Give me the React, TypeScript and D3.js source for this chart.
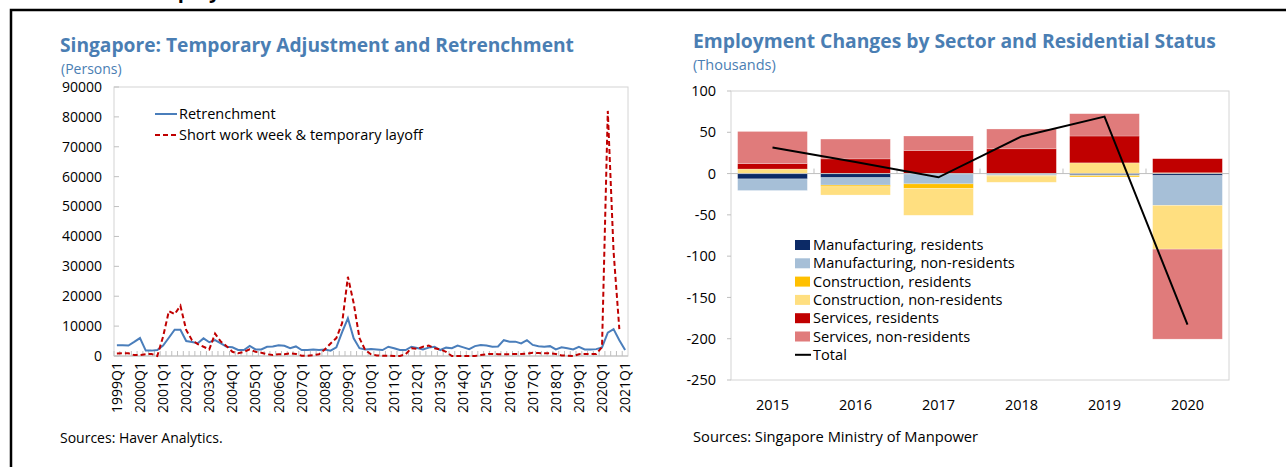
import React from 'react';
import * as d3 from 'd3';

// left chart: quarterly, persons
const quarters: string[] = d3.range(1999, 2022).flatMap(y => [1, 2, 3, 4].map(q => `${y}Q${q}`)).slice(0, 89);

const retrenchment = [
  3600, 3600, 3500, 4700, 6000, 1800, 1800, 2000, 3500, 6100, 8800, 8800, 5000, 4700, 4300, 5900,
  4600, 5300, 4200, 3100, 2900, 2000, 2000, 3400, 2200, 2200, 3100, 3200, 3600, 3400, 2600, 3200,
  2000, 2000, 2200, 2000, 2200, 1800, 2900, 8000, 12600, 5900, 2600, 2200, 2300, 2200, 2000, 3100,
  2600, 2000, 2000, 3100, 2700, 2200, 2800, 3100, 2000, 2800, 2600, 3500, 2900, 2300, 3300, 3700,
  3500, 3100, 3200, 5300, 4800, 4800, 4200, 5300, 3700, 3300, 3100, 3300, 2200, 2900, 2600, 2200,
  3100, 2200, 2200, 2300, 2900, 7800, 9000, 5300, 2000,
];

const layoff: (number | null)[] = [
  800, 900, 900, 300, 300, 600, 700, 0, 6500, 15000, 14000, 16800, 8700, 5300, 4000, 3100,
  2200, 7500, 4800, 3300, 1400, 900, 1400, 2200, 1400, 1100, 600, 300, 600, 600, 900, 700,
  100, 100, 300, 600, 2200, 4200, 6000, 11000, 26500, 17700, 6000, 2000, 600, 200, 100, 100,
  0, 0, 600, 2600, 2400, 3100, 3500, 2600, 2200, 1400, 0, 0, 0, 0, 0, 300,
  600, 700, 600, 600, 600, 700, 700, 800, 1100, 1000, 900, 900, 700, 200, 100, 0,
  600, 700, 700, 700, 3000, 82000, 35000, 9000, null,
];

const leftTicks = d3.range(0, 90001, 10000);

// right chart: annual, thousands
const years = ['2015', '2016', '2017', '2018', '2019', '2020'];
const mfgRes = [-6.5, -5, -0.5, -1, -1.5, -2.5];
const mfgNonRes = [-14, -9, -12, -1.5, -1, -36];
const conRes = [0, -2, -5.3, -0.5, -1.5, 1];
const conNonRes = [5.5, -10, -32.7, -7.5, 13, -53];
const svcRes = [6.5, 17.8, 28, 30, 32.5, 17];
const svcNonRes = [39, 24, 17.5, 24, 27, -109];
const total = [31.5, 14, -4.5, 45, 69, -183];
const rightTicks = d3.range(-250, 101, 50);

const seriesNames = [
  'Manufacturing, residents',
  'Manufacturing, non-residents',
  'Construction, residents',
  'Construction, non-residents',
  'Services, residents',
  'Services, non-residents',
];
const seriesColors = ['#0c2a66', '#a6bfd7', '#ffc000', '#ffdf80', '#c00000', '#e07b7b'];

const FONT = '"Open Sans", "Noto Sans", sans-serif';
const TITLE_BLUE = '#4a7eb3';

function LeftChart() {
  const x = d3.scaleBand<string>().domain(quarters).range([114, 628]);
  const y = d3.scaleLinear().domain([0, 90000]).range([356, 87]);
  const cx = (q: string) => (x(q) as number) + x.bandwidth() / 2;

  const line = d3.line<number | null>()
    .defined(d => d !== null)
    .x((_, i) => cx(quarters[i]))
    .y(d => y(d as number));

  return (
    <g fontFamily={FONT}>
      <text x={60} y={52} fontSize={19.2} fontWeight="bold" fill={TITLE_BLUE}>
        Singapore: Temporary Adjustment and Retrenchment
      </text>
      <text x={61} y={74} fontSize={14} fill={TITLE_BLUE}>(Persons)</text>

      <rect x={114} y={87} width={514} height={269} fill="none" stroke="#d4d4d4" />
      {leftTicks.map(t => (
        <g key={t}>
          <line x1={114} x2={119} y1={y(t)} y2={y(t)} stroke="#bfbfbf" />
          <text x={102} y={y(t)} dy="0.35em" textAnchor="end" fontSize={14} fill="#000">{t}</text>
        </g>
      ))}
      <line x1={114} x2={628} y1={356} y2={356} stroke="#bfbfbf" />
      {quarters.map(q => (
        <line key={q} x1={x(q)} x2={x(q)} y1={356} y2={351} stroke="#bfbfbf" />
      ))}
      {quarters.map((q, i) => i % 4 === 0 && (
        <text key={q} transform={`translate(${cx(q)},362) rotate(-90)`} dy="0.35em"
          textAnchor="end" fontSize={14} fill="#000">{q}</text>
      ))}

      <path d={line(retrenchment) as string} fill="none" stroke="#4a7ebb" strokeWidth={2} />
      <path d={line(layoff) as string} fill="none" stroke="#c00000" strokeWidth={2} strokeDasharray="5,3" />

      <line x1={155} x2={177} y1={114} y2={114} stroke="#4a7ebb" strokeWidth={2} />
      <text x={179} y={114} dy="0.35em" fontSize={14.5}>Retrenchment</text>
      <line x1={155} x2={177} y1={135} y2={135} stroke="#c00000" strokeWidth={2} strokeDasharray="5,3" />
      <text x={179} y={135} dy="0.35em" fontSize={14.5}>Short work week &amp; temporary layoff</text>

      <text x={60} y={443} fontSize={14}>Sources: Haver Analytics.</text>
    </g>
  );
}

function RightChart() {
  const x = d3.scaleBand<string>().domain(years).range([731, 1229]).paddingInner(0.16).paddingOuter(0.08);
  const y = d3.scaleLinear().domain([-250, 100]).range([380, 91]);
  const step = x.step();
  const cx = (yr: string) => (x(yr) as number) + x.bandwidth() / 2;

  const rows = years.map((yr, i) => ({
    year: yr,
    s0: mfgRes[i], s1: mfgNonRes[i], s2: conRes[i], s3: conNonRes[i], s4: svcRes[i], s5: svcNonRes[i],
  }));
  const keys = ['s0', 's1', 's2', 's3', 's4', 's5'];
  const stacked = d3.stack<any>().keys(keys).offset(d3.stackOffsetDiverging)(rows);

  const totalLine = d3.line<number>()
    .x((_, i) => cx(years[i]))
    .y(d => y(d));

  return (
    <g fontFamily={FONT}>
      <text x={693} y={48} fontSize={19.3} fontWeight="bold" fill={TITLE_BLUE}>
        Employment Changes by Sector and Residential Status
      </text>
      <text x={693} y={70} fontSize={14.5} fill={TITLE_BLUE}>(Thousands)</text>

      <rect x={731} y={91} width={498} height={289} fill="none" stroke="#d4d4d4" />
      {rightTicks.map(t => (
        <g key={t}>
          <line x1={727} x2={731} y1={y(t)} y2={y(t)} stroke="#bfbfbf" />
          <text x={716} y={y(t)} dy="0.35em" textAnchor="end" fontSize={14.5} fill="#000">{t}</text>
        </g>
      ))}

      {stacked.map((s, si) => (
        <g key={s.key} fill={seriesColors[si]}>
          {s.map((d, i) => (
            <rect key={i} x={x(years[i])} width={x.bandwidth()}
              y={y(Math.max(d[0], d[1]))} height={Math.abs(y(d[0]) - y(d[1]))}
              stroke="#ffffff" strokeOpacity={0.4} strokeWidth={0.6} />
          ))}
        </g>
      ))}

      <line x1={731} x2={1229} y1={y(0)} y2={y(0)} stroke="#bfbfbf" />
      {d3.range(1, years.length).map(k => (
        <line key={k} x1={731 + step * k} x2={731 + step * k} y1={y(0)} y2={y(0) - 5} stroke="#bfbfbf" />
      ))}

      <path d={totalLine(total) as string} fill="none" stroke="#000" strokeWidth={2} />

      {years.map(yr => (
        <text key={yr} x={cx(yr)} y={410} textAnchor="middle" fontSize={14.5}>{yr}</text>
      ))}

      {seriesNames.map((n, i) => (
        <g key={n} transform={`translate(795,${245 + i * 18.3})`}>
          <rect x={0} y={-5} width={15} height={10} fill={seriesColors[i]} />
          <text x={18} y={0} dy="0.35em" fontSize={14.6}>{n}</text>
        </g>
      ))}
      <g transform={`translate(795,${245 + 6 * 18.3})`}>
        <line x1={0} x2={16} y1={0} y2={0} stroke="#000" strokeWidth={2} />
        <text x={18} y={0} dy="0.35em" fontSize={14.6}>Total</text>
      </g>

      <text x={693} y={442} fontSize={14.7}>Sources: Singapore Ministry of Manpower</text>
    </g>
  );
}

export default function App() {
  return (
    <svg width={1286} height={467} style={{ position: 'absolute', left: 0, top: 0, background: '#fff' }}>
      <text x={147} y={-2} fontSize={20} fontWeight="bold" fontFamily={FONT}>Employment</text>
      <path d="M11,467 V10 H1286" fill="none" stroke="#000" strokeWidth={2.5} />
      <LeftChart />
      <RightChart />
    </svg>
  );
}
